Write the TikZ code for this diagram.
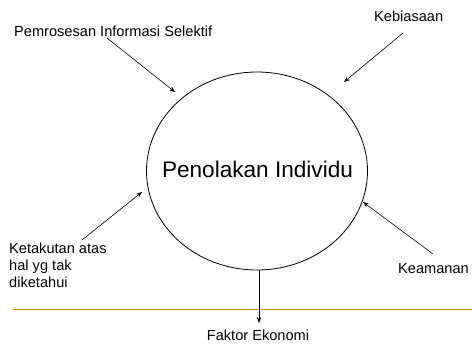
\documentclass[tikz,border=0pt]{standalone}
\usepackage{fontspec}
\setmainfont{Liberation Sans}
\usetikzlibrary{arrows.meta,shapes.geometric}
\definecolor{rulegold}{RGB}{204,153,0}
\tikzset{
  lbl/.style={inner sep=0pt, font=\fontsize{14.6}{16.7}\selectfont},
  conn/.style={line width=0.6pt, -{Stealth[length=6pt,width=4.5pt]}},
}
\begin{document}
\begin{tikzpicture}[x=1pt,y=-1pt]
\useasboundingbox (0,0) rectangle (472,346);
\node[draw, ellipse, line width=0.8pt, minimum width=221pt, minimum height=198pt, inner sep=0pt] (E) at (257,171) {};
\node[inner sep=0pt, anchor=base, font=\fontsize{22.6}{26}\selectfont] (P) at (257.5,177) {Penolakan Individu};
\node[lbl, anchor=base west] (A) at (14,36) {Pemrosesan Informasi Selektif};
\node[lbl, anchor=base west] (B) at (374,21) {Kebiasaan};
\node[lbl, anchor=north west, align=left] (C) at (9,243) {Ketakutan atas\\hal yg tak\\diketahui};
\node[lbl, anchor=base west] (D) at (398,273) {Keamanan};
\node[lbl, anchor=base] (F) at (258,340) {Faktor Ekonomi};
\coordinate (a1) at (107,38);
\coordinate (a2) at (175,92);
\coordinate (b1) at (403,33);
\coordinate (b2) at (344,82);
\coordinate (c1) at (82,240);
\coordinate (c2) at (142,192);
\coordinate (d1) at (433,254);
\coordinate (d2) at (363,202);
\coordinate (f1) at (259,270);
\coordinate (f2) at (259,323);
\coordinate (l1) at (13,309.3);
\coordinate (l2) at (472,309.3);
\draw[color=rulegold, line width=1.5pt] (l1) -- (l2);
\draw[conn] (a1) -- (a2);
\draw[conn] (b1) -- (b2);
\draw[conn] (c1) -- (c2);
\draw[conn] (d1) -- (d2);
\draw[conn] (f1) -- (f2);
\end{tikzpicture}
\end{document}
